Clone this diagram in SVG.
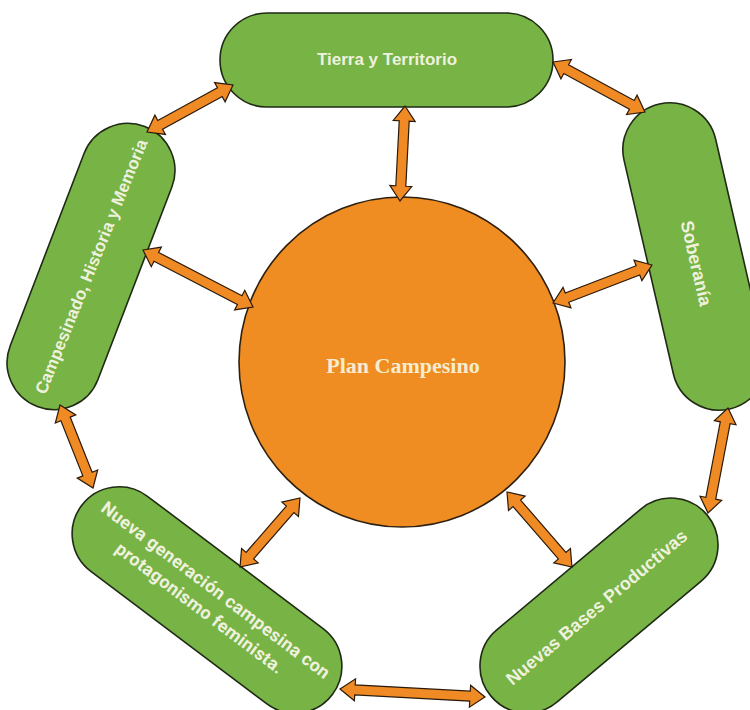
<svg xmlns="http://www.w3.org/2000/svg" width="750" height="710" viewBox="0 0 750 710">
<style>
.pill{fill:#77b345;stroke:#1f2a14;stroke-width:1.6}
.lbl{font-family:"Liberation Sans",Arial,sans-serif;font-weight:bold;fill:#eef1de;text-anchor:middle}
.lbl2{font-family:Roboto,"Liberation Sans",sans-serif;font-weight:bold;fill:#eef1de;text-anchor:middle}
.arr{fill:#ef8a24;stroke:#2a1a0a;stroke-width:1.2;stroke-linejoin:miter}
</style>
<rect width="750" height="710" fill="#ffffff"/>
<g id="plan-campesino">
<ellipse cx="402" cy="362" rx="163" ry="165" fill="#ef8c22" stroke="#2e2010" stroke-width="1.6"/>
<text x="403" y="373" font-family="Liberation Serif,'Times New Roman',serif" font-weight="bold" font-size="22" fill="#f6ecd0" text-anchor="middle">Plan Campesino</text>
</g>
<g id="tierra">
<rect class="pill" x="220" y="13" width="333" height="94" rx="47"/>
<text class="lbl" x="387" y="65" font-size="17">Tierra y Territorio</text>
</g>
<g id="campesinado" transform="translate(91,266.5) rotate(-69)">
<rect class="pill" x="-150" y="-47" width="300" height="94" rx="47"/>
<text class="lbl" x="0" y="6" font-size="17" transform="rotate(1)">Campesinado, Historia y Memoria</text>
</g>
<g id="soberania" transform="translate(694.5,256.5) rotate(77)">
<rect class="pill" x="-156.5" y="-47" width="313" height="94" rx="47"/>
<text class="lbl" x="7" y="6" font-size="18">Soberanía</text>
</g>
<g id="nueva-generacion" transform="translate(207,600) rotate(37)">
<rect class="pill" x="-157" y="-47" width="314" height="94" rx="47"/>
<text class="lbl2" x="1" y="-7" font-size="18" letter-spacing="0.3">Nueva generación campesina con</text>
<text class="lbl2" x="-1" y="17" font-size="18" letter-spacing="0.3">protagonismo feminista.</text>
</g>
<g id="nuevas-bases" transform="translate(599,605.5) rotate(-40)">
<rect class="pill" x="-141" y="-47" width="282" height="94" rx="47"/>
<text class="lbl" x="-3" y="6" font-size="18">Nuevas Bases Productivas</text>
</g>
<g id="connectors">
<path class="arr" transform="translate(147,132) rotate(-28.65)" d="M0,0 L15,-11 L15,-5 L83,-5 L83,-11 L98,0 L83,11 L83,5 L15,5 L15,11 Z"/>
<path class="arr" transform="translate(553,62) rotate(28.52)" d="M0,0 L15,-11 L15,-5 L89.7,-5 L89.7,-11 L104.7,0 L89.7,11 L89.7,5 L15,5 L15,11 Z"/>
<path class="arr" transform="translate(405,106) rotate(93)" d="M0,0 L15,-11 L15,-5 L80.1,-5 L80.1,-11 L95.1,0 L80.1,11 L80.1,5 L15,5 L15,11 Z"/>
<path class="arr" transform="translate(143,250) rotate(27.39)" d="M0,0 L15,-11 L15,-5 L108.9,-5 L108.9,-11 L123.9,0 L108.9,11 L108.9,5 L15,5 L15,11 Z"/>
<path class="arr" transform="translate(553,303) rotate(-21)" d="M0,0 L15,-11 L15,-5 L91,-5 L91,-11 L106,0 L91,11 L91,5 L15,5 L15,11 Z"/>
<path class="arr" transform="translate(728,408) rotate(100.78)" d="M0,0 L15,-11 L15,-5 L91.9,-5 L91.9,-11 L106.9,0 L91.9,11 L91.9,5 L15,5 L15,11 Z"/>
<path class="arr" transform="translate(60,405) rotate(68.3)" d="M0,0 L15,-11 L15,-5 L74.3,-5 L74.3,-11 L89.3,0 L74.3,11 L74.3,5 L15,5 L15,11 Z"/>
<path class="arr" transform="translate(300,498) rotate(131)" d="M0,0 L15,-11 L15,-5 L76.4,-5 L76.4,-11 L91.4,0 L76.4,11 L76.4,5 L15,5 L15,11 Z"/>
<path class="arr" transform="translate(507,492) rotate(49.1)" d="M0,0 L15,-11 L15,-5 L84.2,-5 L84.2,-11 L99.2,0 L84.2,11 L84.2,5 L15,5 L15,11 Z"/>
<path class="arr" transform="translate(340,689) rotate(3.16)" d="M0,0 L15,-11 L15,-5 L130.2,-5 L130.2,-11 L145.2,0 L130.2,11 L130.2,5 L15,5 L15,11 Z"/>
</g>
</svg>
